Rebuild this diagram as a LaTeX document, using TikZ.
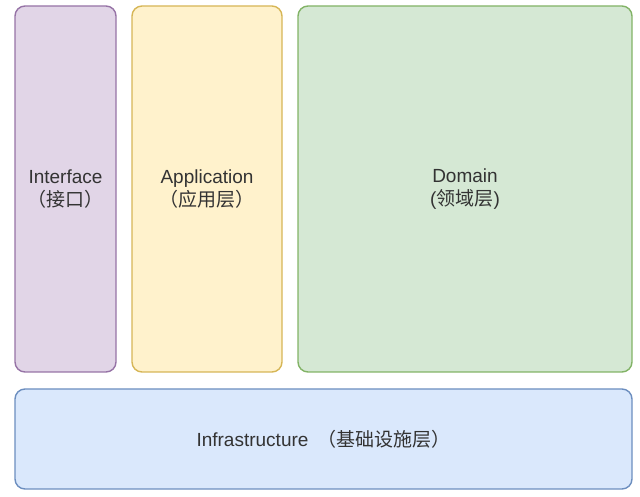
\documentclass[tikz,border=0pt]{standalone}
\usepackage{fontspec}
\setmainfont{Liberation Sans}
\newfontfamily\cjk{Noto Sans CJK SC}
\usepackage{xcolor}
\usepackage{tikz}
\usetikzlibrary{positioning}

\definecolor{ifacefill}{HTML}{E1D5E7}
\definecolor{ifaceline}{HTML}{9673A6}
\definecolor{appfill}{HTML}{FFF2CC}
\definecolor{appline}{HTML}{D6B656}
\definecolor{domfill}{HTML}{D5E8D4}
\definecolor{domline}{HTML}{82B366}
\definecolor{infrafill}{HTML}{DAE8FC}
\definecolor{infraline}{HTML}{6C8EBF}
\definecolor{labeltext}{HTML}{333333}

\tikzset{
    layer/.style={draw, line width=1.4pt, rounded corners=10pt, align=center,
        text=labeltext, font=\fontsize{19}{23}\selectfont, inner sep=0pt}
}

\begin{document}
\begin{tikzpicture}[x=1pt, y=1pt]
    \useasboundingbox (0,0) rectangle (640,497);

    % Vertical layers
    \node[layer, fill=ifacefill, draw=ifaceline, minimum width=101pt, minimum height=366pt] (iface) at (65.5,308) {Interface\\{\cjk （接口）}};
    \node[layer, fill=appfill, draw=appline, minimum width=150pt, minimum height=366pt] (app) at (207,308) {Application\\{\cjk （应用层）}};
    \node[layer, fill=domfill, draw=domline, minimum width=334pt, minimum height=366pt] (dom) at (465,308) {Domain\\({\cjk 领域层})};

    % Base layer
    \node[layer, fill=infrafill, draw=infraline, minimum width=617pt, minimum height=100pt] (infra) at (323.5,58) {Infrastructure\hspace{9pt}{\cjk （基础设施层）}};
\end{tikzpicture}
\end{document}
